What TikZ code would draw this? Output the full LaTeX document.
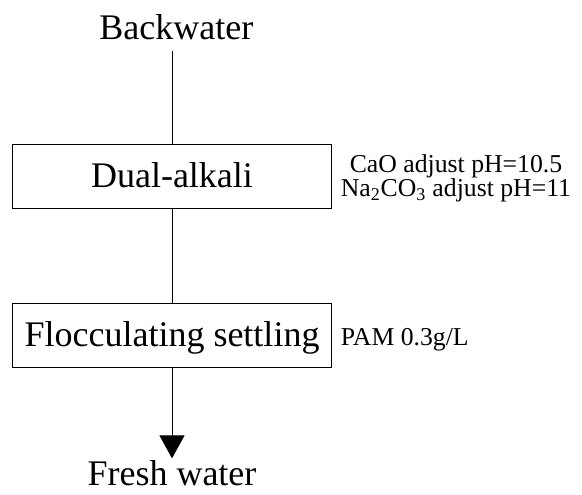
\documentclass[tikz,border=0pt]{standalone}
\usepackage{fontspec}
\setmainfont{Liberation Serif}
\usetikzlibrary{positioning,arrows.meta}

\begin{document}
\begin{tikzpicture}[
big/.style ={font=\fontsize{25.6}{30}\selectfont},
small/.style ={font=\fontsize{18.3}{22}\selectfont, inner sep=0pt},
stage/.style ={rectangle, draw, line width=0.7pt, big, minimum width=7.96cm, minimum height=1.6cm, inner sep=0pt, text height=0.7cm, text depth=0.15cm},
flow/.style ={line width=0.7pt}
]
\useasboundingbox (0,0) rectangle (14.55,-12.35);
%inlet and outlet
\path (4.41,-0.975) node[big, anchor=base, inner sep=0.275cm](bw) {Backwater}
(4.3,-12.14) node[big, anchor=base, inner sep=0.05cm](fw) {Fresh water};
%treatment stages
\path (4.3,-4.41) node[stage](dual) {Dual-alkali}
(4.3,-8.375) node[stage](floc) {Flocculating settling};
%dosing notes
\path (11.4,-4.3075) node[small, anchor=base](cao) {CaO adjust pH=10.5}
(11.4,-4.9175) node[small, anchor=base](na) {Na\textsubscript{2}CO\textsubscript{3} adjust pH=11}
(8.5175,-8.625) node[small, anchor=base west](pam) {PAM 0.3g/L};
%flow lines
\draw[flow] (dual.north |- bw.south) -- (dual.north);
\draw[flow] (dual) -- (floc);
\draw[flow, -{Triangle[length=0.575cm, width=0.625cm]}] (floc) -- (fw);
\end{tikzpicture}
\end{document}
